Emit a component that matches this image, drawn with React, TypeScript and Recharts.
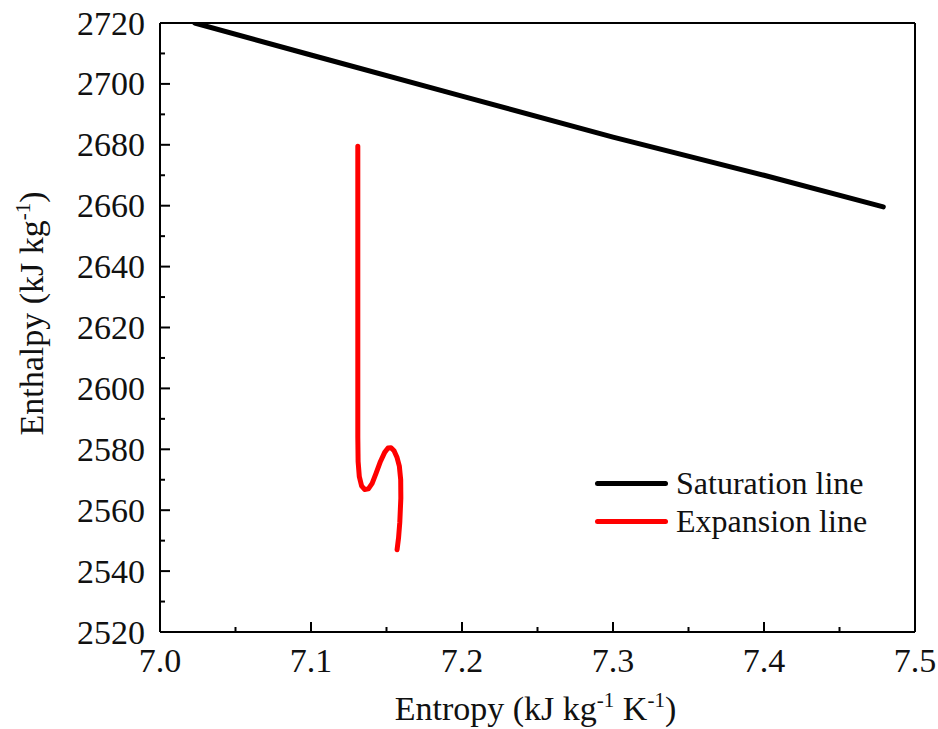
import React from "react";
import { LineChart, Line, XAxis, YAxis, ReferenceLine } from "recharts";

// Saturation line (entropy, enthalpy)
const satEntropy = [7.023, 7.1, 7.2, 7.3, 7.4, 7.479];
const satEnthalpy = [2720, 2709.5, 2696, 2682.5, 2670, 2659.6];

// Expansion line, in drawing order
const expEntropy = [7.131, 7.131, 7.131, 7.131, 7.1312, 7.132, 7.1335, 7.1355, 7.138, 7.1405, 7.143, 7.146, 7.1488, 7.151, 7.153, 7.155, 7.157, 7.1585, 7.1594, 7.1595, 7.1588, 7.158, 7.157];
const expEnthalpy = [2679.5, 2640, 2600, 2584, 2576, 2571, 2568, 2566.8, 2567, 2568.8, 2572, 2576, 2579, 2580.4, 2580.5, 2579.5, 2577.3, 2574.5, 2570, 2564, 2556, 2551, 2547];

const xTicks = [7.0, 7.05, 7.1, 7.15, 7.2, 7.25, 7.3, 7.35, 7.4, 7.45, 7.5];
const yTicks = [2520, 2530, 2540, 2550, 2560, 2570, 2580, 2590, 2600, 2610, 2620, 2630, 2640, 2650, 2660, 2670, 2680, 2690, 2700, 2710, 2720];

const legendItems = [
  { name: "Saturation line", color: "#000000" },
  { name: "Expansion line", color: "#ff0000" },
];

const satData = satEntropy.map((s, i) => ({ s, h: satEnthalpy[i] }));
const expData = expEntropy.map((s, i) => ({ s, h: expEnthalpy[i] }));

const FONT = '"Liberation Serif", "Times New Roman", serif';

const XTick = (props: any) => {
  const { x, y, payload } = props;
  const v = payload.value;
  const major = Math.round(v * 100) % 10 === 0;
  return (
    <g>
      <line x1={x} y1={y} x2={x} y2={y - (major ? 10 : 5)} stroke="#000" strokeWidth={2} />
      {major && (
        <text x={x} y={y + 40} textAnchor="middle" fontSize={34} fontFamily={FONT} fill="#111">
          {v.toFixed(1)}
        </text>
      )}
    </g>
  );
};

const YTick = (props: any) => {
  const { x, y, payload } = props;
  const v = payload.value;
  const major = v % 20 === 0;
  return (
    <g>
      <line x1={x} y1={y} x2={x + (major ? 10 : 5)} y2={y} stroke="#000" strokeWidth={2} />
      {major && (
        <text x={x - 15} y={y + 11.5} textAnchor="end" fontSize={34} fontFamily={FONT} fill="#111">
          {v}
        </text>
      )}
    </g>
  );
};

const XTitle = (props: any) => {
  const { viewBox } = props;
  const cx = viewBox.x + viewBox.width / 2 - 2;
  return (
    <text x={cx} y={viewBox.y + 88} textAnchor="middle" fontSize={34} fontFamily={FONT} fill="#111">
      Entropy (kJ kg
      <tspan fontSize={21} dy={-13}>-1</tspan>
      <tspan dy={13}> K</tspan>
      <tspan fontSize={21} dy={-13}>-1</tspan>
      <tspan dy={13}>)</tspan>
    </text>
  );
};

const YTitle = (props: any) => {
  const { viewBox } = props;
  const cy = viewBox.y + viewBox.height / 2 - 14;
  const x = 43;
  return (
    <text
      x={x}
      y={cy}
      transform={`rotate(-90, ${x}, ${cy})`}
      textAnchor="middle"
      fontSize={34}
      fontFamily={FONT}
      fill="#111"
    >
      Enthalpy (kJ kg
      <tspan fontSize={21} dy={-13}>-1</tspan>
      <tspan dy={13}>)</tspan>
    </text>
  );
};

export default function App() {
  // fixed to the viewport corner so chart coords match the page and nothing scrolls
  return (
    <div style={{ position: "fixed", left: 0, top: 0, width: 938, height: 729, background: "#fff" }}>
      <LineChart width={938} height={729} margin={{ top: 23, right: 23, left: 0, bottom: 0 }}>
        <XAxis
          type="number"
          dataKey="s"
          domain={[7.0, 7.5]}
          ticks={xTicks}
          interval={0}
          height={97}
          tickSize={0}
          tickMargin={0}
          tickLine={false}
          axisLine={{ stroke: "#000", strokeWidth: 2 }}
          tick={<XTick />}
          allowDataOverflow
          label={{ content: <XTitle /> }}
        />
        <YAxis
          type="number"
          domain={[2520, 2720]}
          ticks={yTicks}
          interval={0}
          width={160}
          tickSize={0}
          tickMargin={0}
          tickLine={false}
          axisLine={{ stroke: "#000", strokeWidth: 2 }}
          tick={<YTick />}
          allowDataOverflow
          label={{ content: <YTitle /> }}
        />
        <ReferenceLine y={2720} stroke="#000" strokeWidth={2} />
        <ReferenceLine x={7.5} stroke="#000" strokeWidth={2} />
        <Line
          data={satData}
          dataKey="h"
          name="Saturation line"
          type="linear"
          stroke="#000000"
          strokeWidth={5}
          strokeLinecap="round"
          dot={false}
          isAnimationActive={false}
        />
        <Line
          data={expData}
          dataKey="h"
          name="Expansion line"
          type="linear"
          stroke="#ff0000"
          strokeWidth={5}
          strokeLinecap="round"
          strokeLinejoin="round"
          dot={false}
          isAnimationActive={false}
        />
      </LineChart>
      <div style={{ position: "absolute", left: 595, top: 464, fontFamily: FONT }}>
        {legendItems.map((item) => (
          <div key={item.name} style={{ display: "flex", alignItems: "center", height: 38 }}>
            <div style={{ width: 73, height: 5, borderRadius: 3, background: item.color, marginRight: 8 }} />
            <span style={{ fontSize: 32, color: "#111" }}>{item.name}</span>
          </div>
        ))}
      </div>
    </div>
  );
}
